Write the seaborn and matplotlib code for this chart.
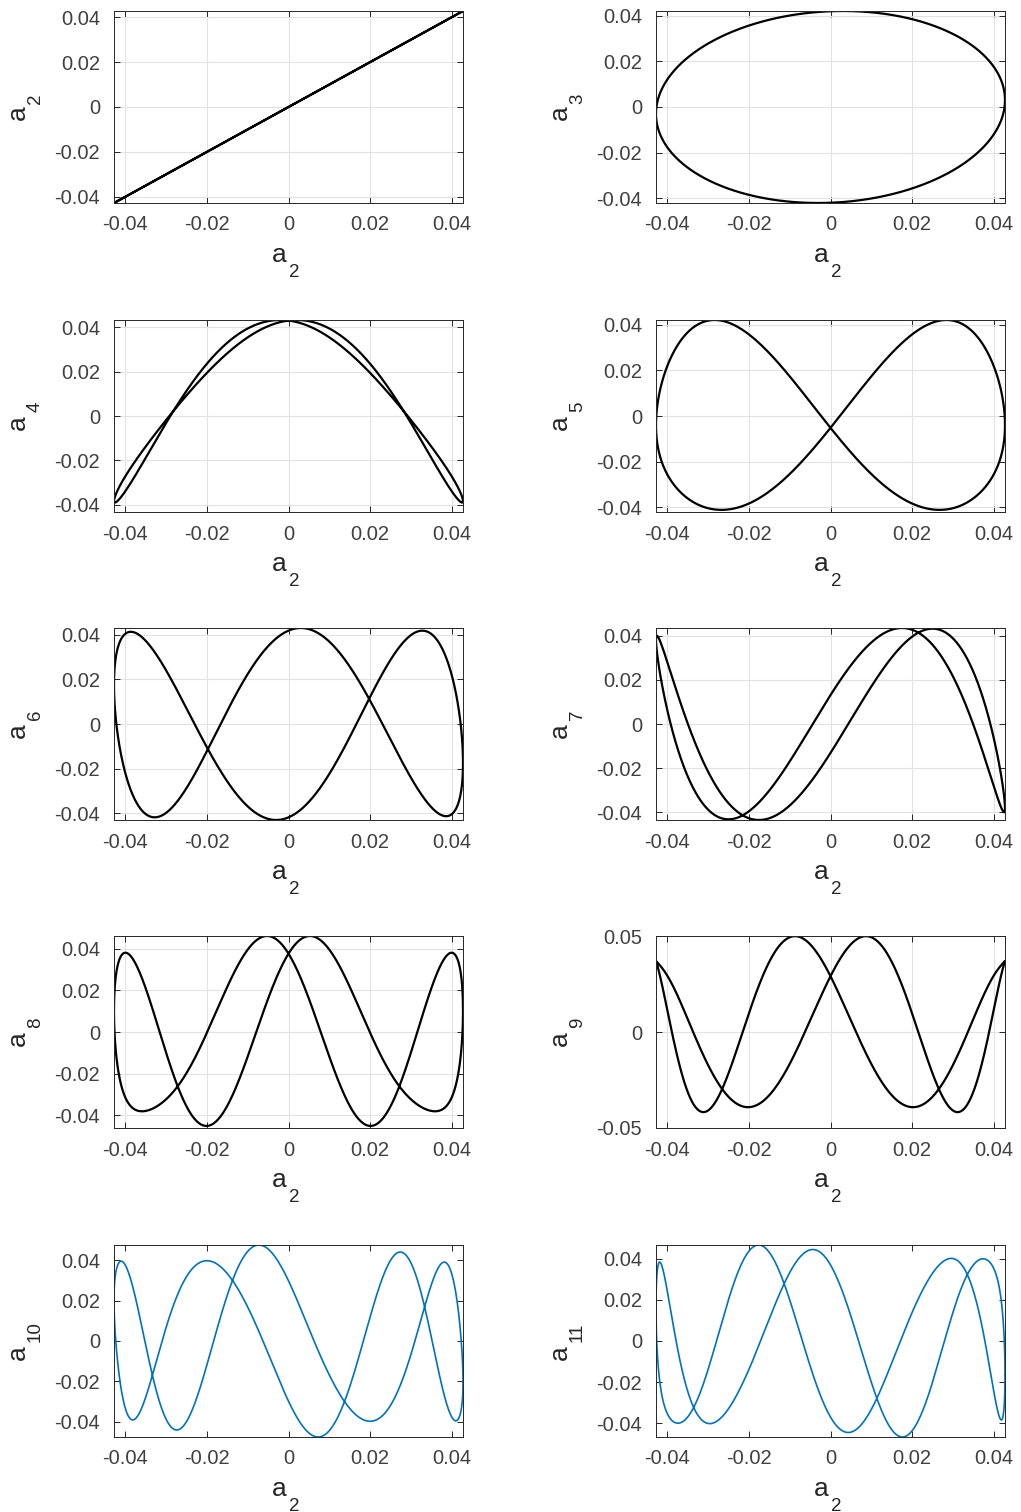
import numpy as np
import matplotlib
matplotlib.use("Agg")
import matplotlib.pyplot as plt
import seaborn as sns
from matplotlib.ticker import MultipleLocator, FuncFormatter

# --- Data ---
# a_2 = A2_AMP * cos(theta); every other mode a_k is a short cosine/sine series in theta.
# Amplitudes/coefficients in units of 1e-3, one [cos, sin] pair per harmonic (k = 0 -> constant).
A2_AMP = 42.7
MODES = [2, 3, 4, 5, 6, 7, 8, 9, 10, 11]

harm_a2 = [1]
coef_a2 = [42.7, 0.0]
harm_a3 = [1]
coef_a3 = [3.0, 41.9]
harm_a4 = [0, 2, 4]
coef_a4 = [-0.39, -40.72, -0.75, 2.74, -2.89]
harm_a5 = [0, 2, 4]
coef_a5 = [-1.96, 0.57, 41.0, -2.66, -3.4]
harm_a6 = [1, 3, 5]
coef_a6 = [-3.35, 2.04, -13.44, 39.37, -0.75, -4.49]
harm_a7 = [1, 3, 5]
coef_a7 = [1.82, -0.33, -40.3, 12.63, 0.35, -0.16]
harm_a8 = [0, 2, 4, 6, 8]
coef_a8 = [-1.62, -1.85, 8.82, 22.16, 31.61, -11.91, -3.31, 3.24, 0.8]
harm_a9 = [0, 2, 4, 6, 8]
coef_a9 = [4.66, 8.93, 1.7, 30.87, -21.81, -4.97, 14.19, -2.5, -0.56]
harm_a10 = [1, 3, 5, 7, 9]
coef_a10 = [-3.99, 1.57, 0.8, 3.66, -22.48, 33.66, 6.96, -2.82, -1.64, -4.61]
harm_a11 = [1, 3, 5, 7, 9]
coef_a11 = [5.08, 0.54, -0.73, 3.33, -27.19, 30.54, 4.55, -4.19, 1.6, 5.06]

HARMONICS = [harm_a2, harm_a3, harm_a4, harm_a5, harm_a6,
             harm_a7, harm_a8, harm_a9, harm_a10, harm_a11]
COEFS = [coef_a2, coef_a3, coef_a4, coef_a5, coef_a6,
         coef_a7, coef_a8, coef_a9, coef_a10, coef_a11]
Y_TICK_STEP = [0.02, 0.02, 0.02, 0.02, 0.02, 0.02, 0.02, 0.05, 0.02, 0.02]
LINE_COLORS = ['black'] * 8 + ['#0072BD'] * 2
X_TICKS = [-0.04, -0.02, 0, 0.02, 0.04]

# --- Layout (pixels in the 1021 x 1512 figure) ---
FIG_W, FIG_H = 1021, 1512
ROW_TOPS = [11, 320, 628, 936, 1245]
COL_LEFTS = [114, 656]
AX_W, AX_H = 349, 192


def series(theta, harmonics, coef):
    cols = []
    for k in harmonics:
        if k == 0:
            cols.append(np.ones_like(theta))
        else:
            cols += [np.cos(k * theta), np.sin(k * theta)]
    return np.column_stack(cols) @ np.asarray(coef) / 1000


def sub_label(ax, idx, which):
    # MATLAB-style "a_k" label: big "a", lowered subscript
    sub = str(idx)
    wa, gap, ws = 14.5, 2.5, 10.0 * len(sub)
    start = -(wa + gap + ws) / 2
    kw = dict(textcoords='offset pixels', xycoords='axes fraction',
              color='#262626', rotation_mode='anchor', ha='left', va='baseline')
    if which == 'x':
        start -= 3
        ax.annotate('a', (0.5, 0), xytext=(start, -59), fontsize=19, **kw)
        ax.annotate(sub, (0.5, 0), xytext=(start + wa + gap, -74), fontsize=13.5, **kw)
    else:
        ax.annotate('a', (0, 0.5), xytext=(-89, start), fontsize=19, rotation=90, **kw)
        ax.annotate(sub, (0, 0.5), xytext=(-74, start + wa + gap), fontsize=13.5,
                    rotation=90, **kw)


def main():
    sns.set_theme(style="ticks")
    plt.rcParams['font.family'] = ['Liberation Sans', 'DejaVu Sans']
    plt.rcParams['axes.unicode_minus'] = False

    theta = np.linspace(0, 2 * np.pi, 1441)
    x = A2_AMP * np.cos(theta) / 1000
    fmt = FuncFormatter(lambda v, p: f"{v:g}" if abs(v) > 1e-12 else "0")

    fig = plt.figure(figsize=(FIG_W / 100, FIG_H / 100), dpi=100)
    for i, m in enumerate(MODES):
        r, c = divmod(i, 2)
        ax = fig.add_axes([COL_LEFTS[c] / FIG_W, 1 - (ROW_TOPS[r] + AX_H) / FIG_H,
                           AX_W / FIG_W, AX_H / FIG_H])
        y = series(theta, HARMONICS[i], COEFS[i])
        blue = LINE_COLORS[i] != 'black'
        sns.lineplot(x=x, y=y, sort=False, estimator=None, ax=ax,
                     color=LINE_COLORS[i], lw=1.2 if blue else 1.6)

        # tight, symmetric limits like MATLAB's axis tight on this data
        xm = np.abs(x).max()
        step = Y_TICK_STEP[i]
        ym = np.abs(y).max()
        ym = max(ym, round(ym / step) * step + 1e-9)
        ax.set_xlim(-xm, xm)
        ax.set_ylim(-ym, ym)

        ax.set_xticks(X_TICKS)
        ax.yaxis.set_major_locator(MultipleLocator(step))
        ax.xaxis.set_major_formatter(fmt)
        ax.yaxis.set_major_formatter(fmt)
        ax.tick_params(direction='in', length=4, width=0.7, top=True, right=True,
                       labelsize=14.5, labelcolor='#404040', color='#262626')
        ax.tick_params(axis='x', pad=9)
        ax.tick_params(axis='y', pad=10)
        for s in ax.spines.values():
            s.set_color('#262626')
            s.set_linewidth(0.7)
        if not blue:
            ax.grid(True, color='#e2e2e2', lw=0.8)
        ax.set_axisbelow(True)
        ax.set_xlabel('')
        ax.set_ylabel('')
        sub_label(ax, 2, 'x')
        sub_label(ax, m, 'y')

    fig.savefig('out.png', dpi=100)


if __name__ == "__main__":
    main()
